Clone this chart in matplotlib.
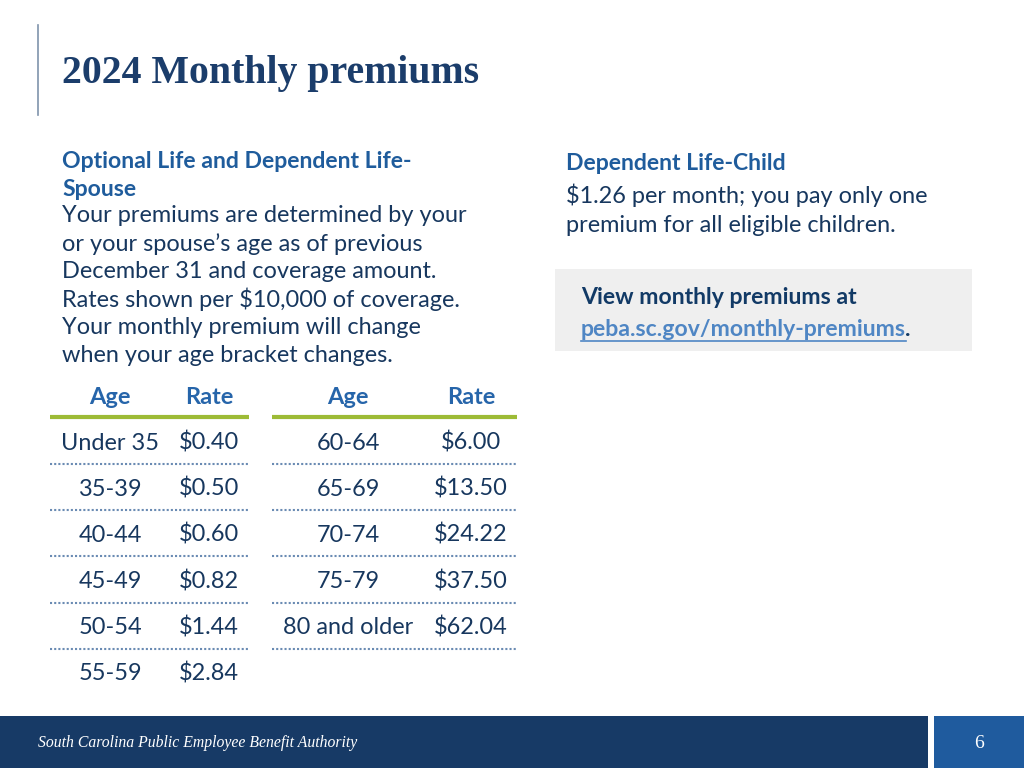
import matplotlib.pyplot as plt
from matplotlib.patches import Rectangle

# data
left_ages = ['Under 35', '35-39', '40-44', '45-49', '50-54', '55-59']
left_rates = ['$0.40', '$0.50', '$0.60', '$0.82', '$1.44', '$2.84']
right_ages = ['60-64', '65-69', '70-74', '75-79', '80 and older']
right_rates = ['$6.00', '$13.50', '$24.22', '$37.50', '$62.04']

body_lines = [
    'Your premiums are determined by your',
    'or your spouse\u2019s age as of previous',
    'December 31 and coverage amount.',
    'Rates shown per $10,000 of coverage.',
    'Your monthly premium will change',
    'when your age bracket changes.',
]

navy = '#17375e'
title_c = '#1b3d6b'
head_c = '#1f5c9c'
green = '#9dbb36'
dot_c = '#6a8bb3'
font = 'Lato'
fs = 16.9

fig = plt.figure(figsize=(10.24, 7.68), dpi=100)
ax = fig.add_axes([0, 0, 1, 1])
ax.set_xlim(0, 1024)
ax.set_ylim(768, 0)
ax.axis('off')

# title and left rule
ax.plot([38, 38], [25, 115], color='#7f93ab', lw=1.2)
ax.text(62, 73, '2024 Monthly premiums', family='Liberation Serif', fontweight='bold',
        fontsize=28.6, color=title_c, va='center')

# left text block
ax.text(62, 162, 'Optional Life and Dependent Life-', family=font, fontweight='bold',
        fontsize=16.6, color=head_c, va='center')
ax.text(62, 189, 'Spouse', family=font, fontweight='bold', fontsize=16.6, color=head_c, va='center')
for i, s in enumerate(body_lines):
    ax.text(62, 216 + i * 27.8, s, family=font, fontsize=fs, color=navy, va='center')

# right text block
ax.text(566, 164, 'Dependent Life-Child', family=font, fontweight='bold', fontsize=16.6,
        color=head_c, va='center')
ax.text(566, 195, '$1.26 per month; you pay only one', family=font, fontsize=fs,
        color=navy, va='center')
ax.text(566, 226, 'premium for all eligible children.', family=font, fontsize=fs,
        color=navy, va='center')

# grey box with link
ax.add_patch(Rectangle((555, 269), 417, 82, color='#efefef', lw=0))
ax.text(581, 298, 'View monthly premiums at', family=font, fontweight='bold', fontsize=16.6,
        color='#123a66', va='center')
link = ax.text(581, 329, 'peba.sc.gov/monthly-premiums', family=font, fontweight='bold',
               fontsize=16.6, color='#4f86c4', va='center')

# tables
tables = [
    (50, 249, 110, 209, left_ages, left_rates),
    (272, 517, 348, 471, right_ages, right_rates),
]
for x0, x1, xa, xr, ages, rates in tables:
    ax.text(xa, 404, 'Age', family=font, fontweight='bold', fontsize=fs, color='#2665aa',
            ha='center', va='baseline')
    ax.text(xr, 404, 'Rate', family=font, fontweight='bold', fontsize=fs, color='#2665aa',
            ha='center', va='baseline')
    ax.plot([x0, x1], [417, 417], color=green, lw=3, solid_capstyle='butt')
    for i, (a, r) in enumerate(zip(ages, rates)):
        y = 449.5 + i * 46.2
        ax.text(xa, y, a, family=font, fontsize=fs, color=navy, ha='center', va='baseline')
        ax.text(xr, y, r, family=font, fontsize=fs, color=navy, ha='center', va='baseline')
        if i < 5:
            ax.plot([x0, x1], [464 + i * 46.2] * 2, color=dot_c, lw=1.5, ls=(0, (1, 1)))

# footer
ax.add_patch(Rectangle((0, 716), 928, 52, color='#173a66', lw=0))
ax.add_patch(Rectangle((934, 716), 90, 52, color='#1f5b9e', lw=0))
ax.text(38, 743, 'South Carolina Public Employee Benefit Authority', family='Liberation Serif',
        style='italic', fontsize=11.3, color='white', va='center')
ax.text(979, 743, '6', family='Liberation Serif', fontsize=14, color='white',
        ha='center', va='center')

# underline the link and add the trailing period
fig.canvas.draw()
bb = link.get_window_extent().transformed(ax.transData.inverted())
xa0, xa1 = sorted([bb.x0, bb.x1])
ax.plot([xa0, xa1], [341, 341], color='#4f86c4', lw=1.2)
ax.text(xa1 - 1, 329, '.', family=font, fontweight='bold', fontsize=16.6, color='#123a66',
        va='center')

fig.savefig('out.png', dpi=100)
